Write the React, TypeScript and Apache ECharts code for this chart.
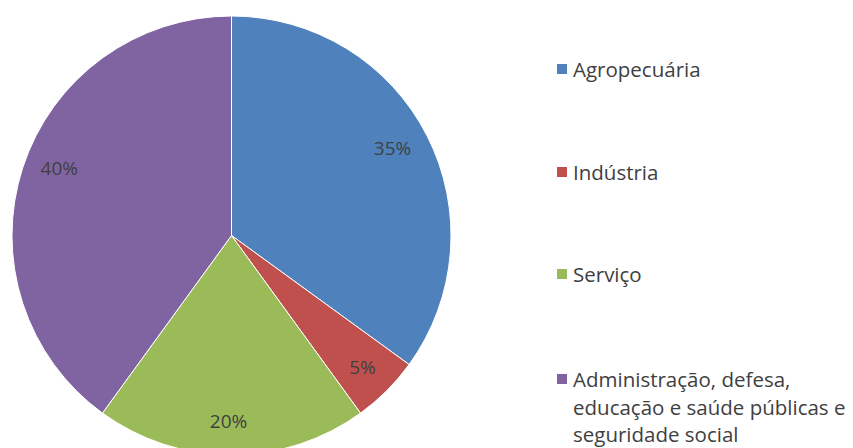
import React, { useEffect, useRef } from "react";
import * as echarts from "echarts";

const categories = [
  "Agropecuária",
  "Indústria",
  "Serviço",
  "Administração, defesa, educação e saúde públicas e seguridade social",
];
const values = [35, 5, 20, 40];
const colors = ["#4F81BD", "#C0504D", "#9BBB59", "#8064A2"];
const legendLabels = [
  "Agropecuária",
  "Indústria",
  "Serviço",
  "Administração, defesa,\neducação e saúde públicas e\nseguridade social",
];
const legendCenters = [69, 172, 274, 379];
const labelNudges = [[-4, -3], [0, 1], [-3, 0], [4, -10]];

export default function App() {
  const ref = useRef<HTMLDivElement>(null);
  useEffect(() => {
    document.body.style.margin = "0";
    const chart = echarts.init(ref.current!, null, { renderer: "svg" });
    const font = "Open Sans";
    const lh = 27.5;
    const data = categories.map((c, i) => ({
      name: c,
      value: values[i],
      itemStyle: { color: colors[i] },
    }));
    const legends = categories.map((c, i) => {
      const multi = legendLabels[i].includes("\n");
      const text = multi ? "\n\n" + legendLabels[i] : legendLabels[i];
      const nLines = text.split("\n").length;
      return {
        show: true,
        data: [c],
        left: 550,
        top: legendCenters[i] - (nLines * lh) / 2 - 5,
        orient: "vertical",
        icon: "rect",
        itemWidth: 12,
        itemHeight: 12,
        selectedMode: false,
        formatter: () => text,
        textStyle: {
          fontFamily: font,
          fontSize: 20.5,
          color: "#404040",
          lineHeight: lh,
        },
      };
    });
    chart.setOption({
      animation: false,
      backgroundColor: "#ffffff",
      legend: legends,
      series: [
        {
          type: "pie",
          center: [231.5, 235.5],
          radius: [0, 219.5],
          startAngle: 90,
          clockwise: true,
          label: { show: false },
          labelLine: { show: false },
          itemStyle: { borderColor: "#ffffff", borderWidth: 1 },
          silent: true,
          data,
        },
        {
          type: "pie",
          center: [231.5, 235.5],
          radius: [145, 219.5],
          startAngle: 90,
          clockwise: true,
          silent: true,
          legendHoverLink: false,
          itemStyle: { color: "transparent" },
          label: {
            show: true,
            position: "inside",
            formatter: "{c}%",
            fontFamily: font,
            fontSize: 19,
            color: "#404040",
          },
          labelLine: { show: false },
          data: categories.map((c, i) => ({
            name: c + " ",
            value: values[i],
            label: { offset: labelNudges[i] },
          })),
        },
      ],
    });
    return () => chart.dispose();
  }, []);
  return (
    <div
      ref={ref}
      style={{ position: "absolute", left: 0, top: 0, width: 853, height: 448 }}
    />
  );
}
